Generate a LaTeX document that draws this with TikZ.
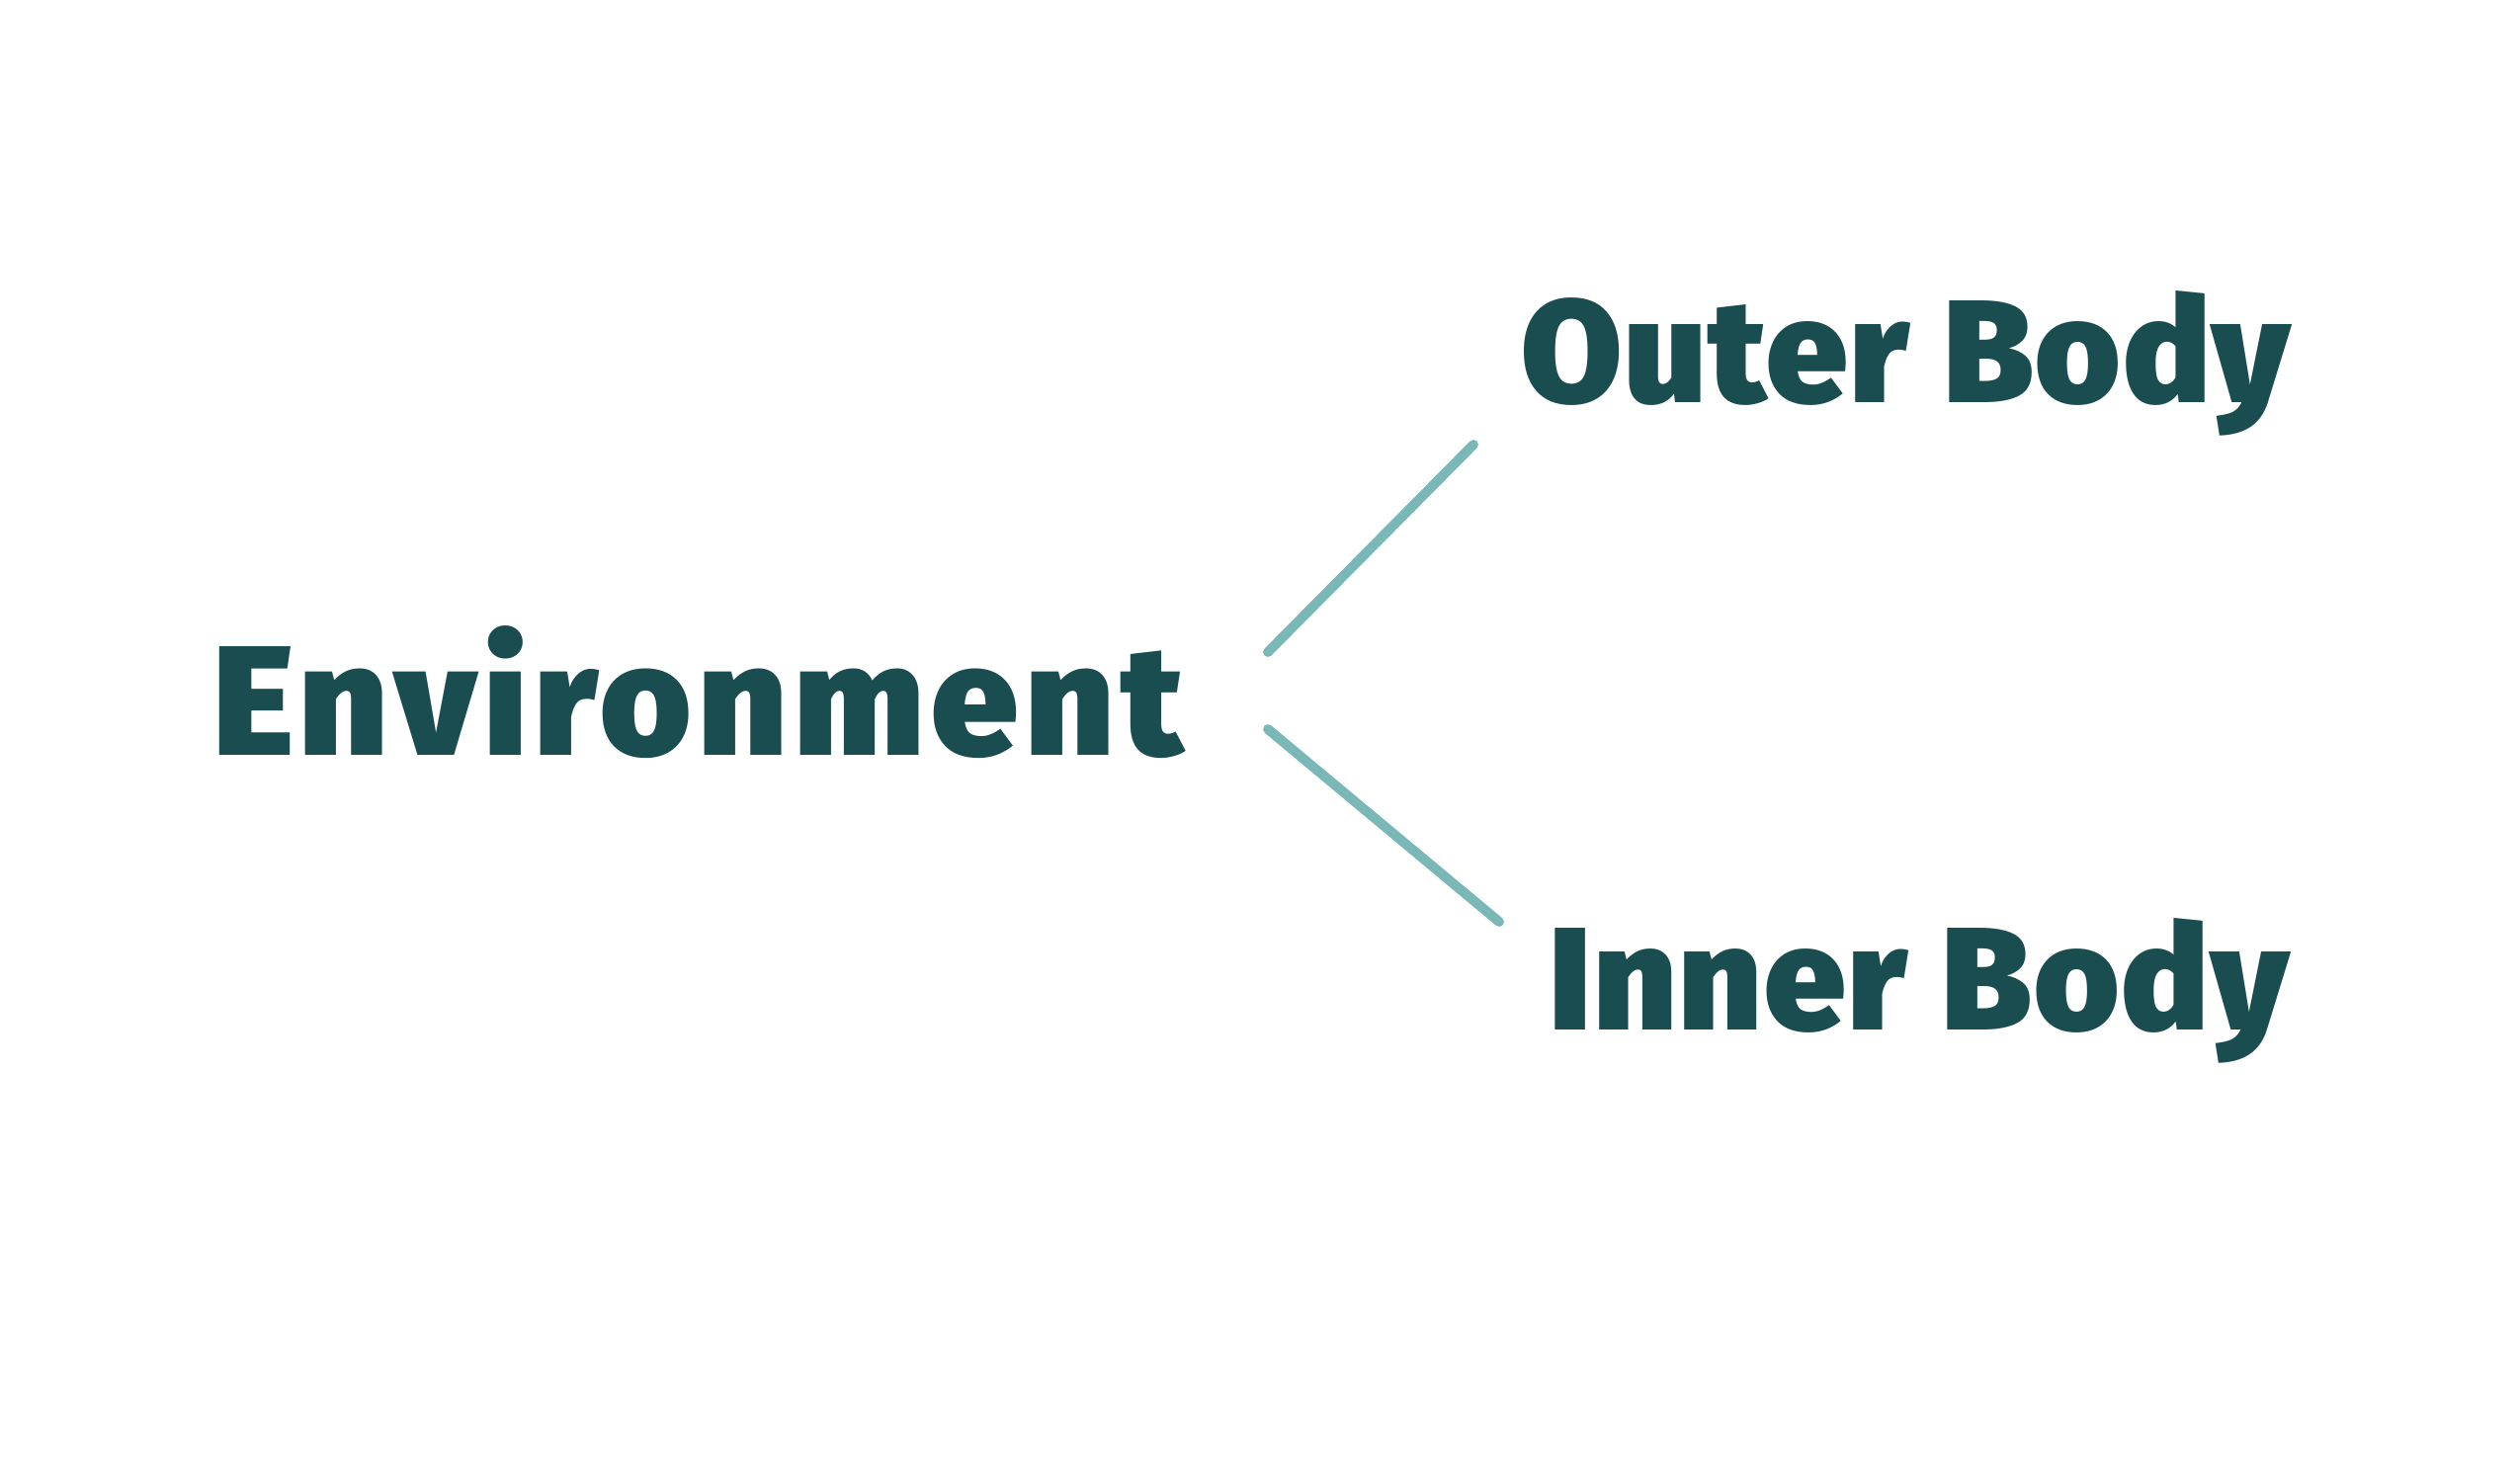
\documentclass[tikz,border=0pt]{standalone}
\usepackage{fontspec}
\setmainfont{Fira Sans}[UprightFont=* Black, BoldFont=* Black]
\definecolor{textc}{HTML}{1A4D4F}
\definecolor{linec}{HTML}{7AB8B8}
\begin{document}
\begin{tikzpicture}[x=0.5pt,y=-0.5pt,
  lbl/.style={anchor=base west, inner sep=0pt, text=textc},
  big/.style={font=\fontsize{79}{90}\selectfont\addfontfeature{LetterSpace=4.3}},
  mid/.style={font=\fontsize{74}{85}\selectfont\addfontfeature{LetterSpace=1.2}},
  conn/.style={draw=linec, line width=4.9pt, line cap=round}]
\useasboundingbox (0,0) rectangle (2550,1500);
\node[lbl,big] (env) at (215,764) {Environment};
\node[lbl,mid] (outer) at (1539,407) {Outer Body};
\node[lbl,mid] (inner) at (1567,1042) {Inner Body};
\coordinate (a1) at (1283,660);
\coordinate (b1) at (1491,450);
\coordinate (a2) at (1283,738);
\coordinate (b2) at (1517,933);
\draw[conn] (a1) -- (b1);
\draw[conn] (a2) -- (b2);
\end{tikzpicture}
\end{document}
